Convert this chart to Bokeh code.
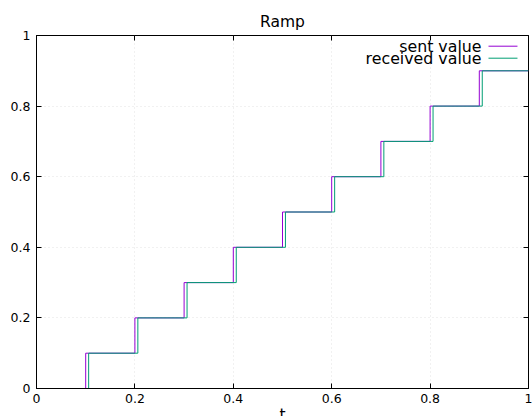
from bokeh.plotting import figure
from bokeh.models import Range1d, LinearAxis, FixedTicker, Label
from bokeh.embed import file_html
from bokeh.resources import INLINE

# Data
sent_t = [0.0, 0.1, 0.2, 0.3, 0.4, 0.5, 0.6, 0.7, 0.8, 0.9, 1.0]
sent_v = [0.0, 0.1, 0.2, 0.3, 0.4, 0.5, 0.6, 0.7, 0.8, 0.9, 0.9]
recv_t = [0.0, 0.106, 0.206, 0.306, 0.406, 0.506, 0.606, 0.706, 0.806, 0.906, 1.0]
recv_v = [0.0, 0.1, 0.2, 0.3, 0.4, 0.5, 0.6, 0.7, 0.8, 0.9, 0.9]
tick_vals = [0, 0.2, 0.4, 0.6, 0.8, 1]
tick_labels = ["0", "0.2", "0.4", "0.6", "0.8", "1"]
title_text = "Ramp"
x_label = "t"
series_names = ["sent value", "received value"]
series_colors = ["#9400d3", "#009e73"]

FONT = "DejaVu Sans"

p = figure(width=532, height=430, output_backend="svg", toolbar_location=None,
           x_range=Range1d(0, 1), y_range=Range1d(0, 1),
           min_border_left=36, min_border_right=4, min_border_top=35, min_border_bottom=42,
           background_fill_color="white", border_fill_color="white")
p.outline_line_color = "black"
p.outline_line_width = 1

p.title.text = title_text
p.title.align = "center"
p.title.text_font = FONT
p.title.text_font_size = "15.5px"
p.title.text_font_style = "normal"
p.title.text_color = "black"
p.title.standoff = 10

overrides = {v: s for v, s in zip(tick_vals, tick_labels)}
for ax in (p.xaxis[0], p.yaxis[0]):
    ax.ticker = FixedTicker(ticks=tick_vals)
    ax.major_label_overrides = overrides
    ax.major_tick_in = 5
    ax.major_tick_out = 0
    ax.minor_tick_in = 0
    ax.minor_tick_out = 0
    ax.major_label_text_font = FONT
    ax.major_label_text_font_size = "12.5px"
    ax.major_label_text_color = "black"
    ax.axis_line_color = "black"
    ax.major_tick_line_color = "black"
p.xaxis[0].major_label_standoff = 5
p.yaxis[0].major_label_standoff = 6
p.xaxis[0].axis_label = x_label
p.xaxis[0].axis_label_text_font = FONT
p.xaxis[0].axis_label_text_font_size = "15.5px"
p.xaxis[0].axis_label_text_font_style = "normal"
p.xaxis[0].axis_label_text_color = "black"
p.xaxis[0].axis_label_standoff = 0

for loc in ("above", "right"):
    ax = LinearAxis(ticker=FixedTicker(ticks=tick_vals), major_tick_in=5, major_tick_out=0,
                    minor_tick_in=0, minor_tick_out=0, major_label_standoff=0,
                    major_label_text_font_size="0px", axis_line_color=None,
                    major_tick_line_color="black")
    ax.major_label_overrides = {v: "" for v in tick_vals}
    p.add_layout(ax, loc)

p.grid.ticker = FixedTicker(ticks=tick_vals)
p.grid.grid_line_color = "#d0d0d0"
p.grid.grid_line_dash = "1 3"
p.grid.grid_line_width = 0.6

p.step(sent_t, sent_v, mode="after", line_color=series_colors[0], line_width=1)
p.step(recv_t, recv_v, mode="after", line_color=series_colors[1], line_width=1)

# legend (text right-aligned, sample to the right)
leg_y = [0.9697, 0.9357]
for name, col, ly in zip(series_names, series_colors, leg_y):
    p.add_layout(Label(x=0.9045, y=ly, text=name, text_align="right", text_baseline="middle",
                       text_font=FONT, text_font_size="15.8px", text_color="black"))
    p.segment(x0=[0.9187], y0=[ly], x1=[0.9776], y1=[ly], line_color=col, line_width=1)

open("out.html", "w").write(file_html(p, INLINE))
